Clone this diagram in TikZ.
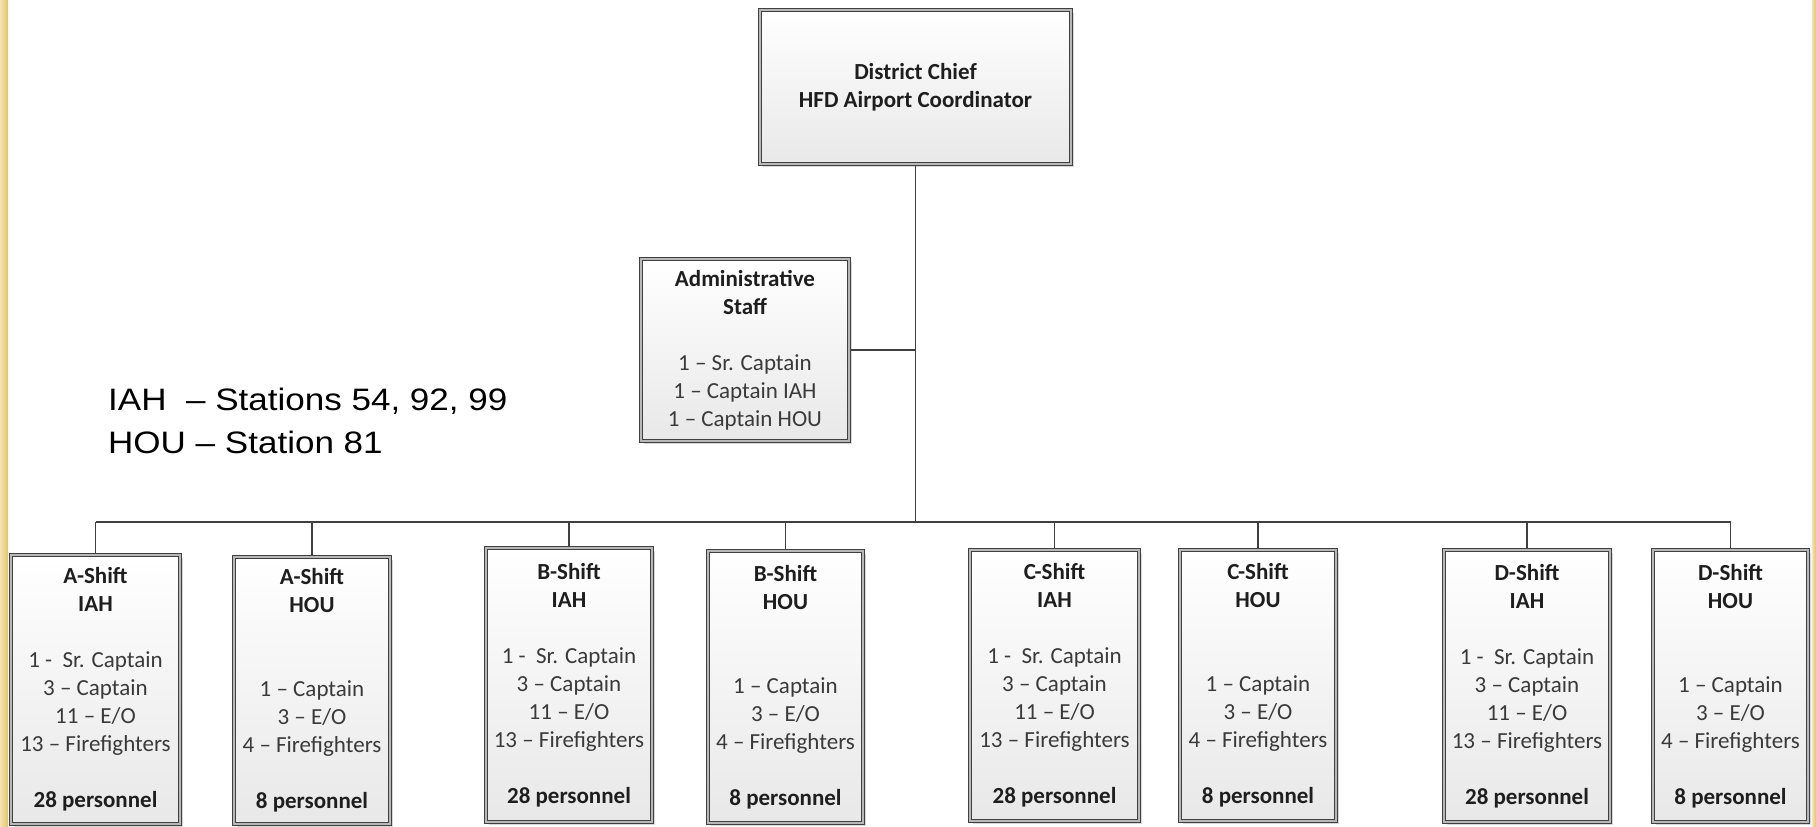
\documentclass[tikz,border=0pt]{standalone}
\usepackage{fontspec}
\setmainfont{Carlito}
\newfontfamily\stfont{Liberation Sans}
\usetikzlibrary{shadows,backgrounds}
\definecolor{lineC}{HTML}{404040}
\definecolor{txtC}{HTML}{3A3A3A}
\definecolor{boldC}{HTML}{1E1E1E}
\definecolor{goldA}{HTML}{F6E4AE}
\definecolor{goldB}{HTML}{E2C270}
\newcommand\hb[1]{\textcolor{boldC}{\bfseries #1}}
\begin{document}
\begin{tikzpicture}[x=1pt,y=-1pt,
  box/.style={draw=lineC, line width=1.1pt, double=black!28, double distance=2.2pt,
    top color=white, bottom color=black!9, inner sep=0pt, align=center,
    font=\fontsize{23}{28}\selectfont, text=txtC,
    drop shadow={shadow xshift=3pt, shadow yshift=-3pt, opacity=0.25, fill=black!60}},
  conn/.style={draw=lineC, line width=1.3pt},
  sttext/.style={anchor=base west, inner sep=0pt, text=black, font=\fontsize{31}{31}\stfont\selectfont}]
\useasboundingbox (0,0) rectangle (1816,827);

\node[box, minimum width=310.6pt, minimum height=153.6pt] (top) at (915.5,87)
  {\hb{District Chief}\\\hb{HFD Airport Coordinator}};
\node[box, minimum width=207.6pt, minimum height=181.6pt] (admin) at (745,350)
  {\hb{Administrative}\\\hb{Staff}\\\mbox{}\\1 – Sr. Captain\\1 – Captain IAH\\1 – Captain HOU};

\node[box, minimum width=168.6pt, minimum height=268.6pt] (ai) at (95.5,689.5)
  {\hb{A-Shift}\\\hb{IAH}\\\mbox{}\\1 -\ \ Sr. Captain\\3 – Captain\\11 – E/O\\13 – Firefighters\\\mbox{}\\\hb{28 personnel}};
\node[box, minimum width=155.6pt, minimum height=266.6pt] (ah) at (312,690.5)
  {\hb{A-Shift}\\\hb{HOU}\\\mbox{}\\\mbox{}\\1 – Captain\\3 – E/O\\4 – Firefighters\\\mbox{}\\\hb{8 personnel}};
\node[box, minimum width=165.6pt, minimum height=273.6pt] (bi) at (569,685)
  {\hb{B-Shift}\\\hb{IAH}\\\mbox{}\\1 -\ \ Sr. Captain\\3 – Captain\\11 – E/O\\13 – Firefighters\\\mbox{}\\\hb{28 personnel}};
\node[box, minimum width=154.6pt, minimum height=271.6pt] (bh) at (785.5,687)
  {\hb{B-Shift}\\\hb{HOU}\\\mbox{}\\\mbox{}\\1 – Captain\\3 – E/O\\4 – Firefighters\\\mbox{}\\\hb{8 personnel}};
\node[box, minimum width=168.6pt, minimum height=270.6pt] (ci) at (1054.5,685.5)
  {\hb{C-Shift}\\\hb{IAH}\\\mbox{}\\1 -\ \ Sr. Captain\\3 – Captain\\11 – E/O\\13 – Firefighters\\\mbox{}\\\hb{28 personnel}};
\node[box, minimum width=155.6pt, minimum height=270.6pt] (ch) at (1258,685.5)
  {\hb{C-Shift}\\\hb{HOU}\\\mbox{}\\\mbox{}\\1 – Captain\\3 – E/O\\4 – Firefighters\\\mbox{}\\\hb{8 personnel}};
\node[box, minimum width=165.6pt, minimum height=271.6pt] (di) at (1527,686)
  {\hb{D-Shift}\\\hb{IAH}\\\mbox{}\\1 -\ \ Sr. Captain\\3 – Captain\\11 – E/O\\13 – Firefighters\\\mbox{}\\\hb{28 personnel}};
\node[box, minimum width=154.6pt, minimum height=271.6pt] (dh) at (1730.5,686)
  {\hb{D-Shift}\\\hb{HOU}\\\mbox{}\\\mbox{}\\1 – Captain\\3 – E/O\\4 – Firefighters\\\mbox{}\\\hb{8 personnel}};

\node[sttext] (st1) at (108,410) {\scalebox{1.13}[1]{IAH\ \ – Stations 54, 92, 99}};
\node[sttext] (st2) at (108,453) {\scalebox{1.13}[1]{HOU – Station 81}};

\coordinate (bus) at (916,522);
\begin{scope}[on background layer]
  \fill[white] (0,0) rectangle (1816,827);
  \fill[left color=goldA, right color=goldB] (0,0) rectangle (8,827);
  \fill[left color=goldA, right color=goldB] (1812,0) rectangle (1816,827);
  \draw[conn] (top.south) -- (top.south |- bus);
  \draw[conn] (admin.east) -- (admin.east -| top.south);
  \draw[conn] (ai.north |- bus) -- (dh.north |- bus);
  \foreach \n in {ai,ah,bi,bh,ci,ch,di,dh}
    \draw[conn] (\n.north |- bus) -- (\n.north);
\end{scope}
\end{tikzpicture}
\end{document}
